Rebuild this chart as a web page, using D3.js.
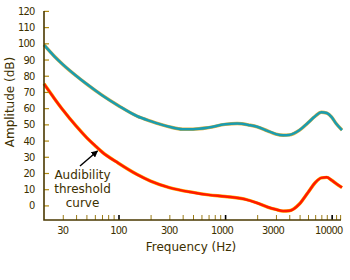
<!DOCTYPE html>
<html>
<head>
<meta charset="utf-8">
<script src="https://cdnjs.cloudflare.com/ajax/libs/d3/7.8.5/d3.min.js"></script>
<style>
body { margin: 0; background: #fff; }
svg { display: block; }
</style>
</head>
<body>
<div id="chart"></div>
<script>
// values: frequency (Hz) and amplitude (dB)
const painFreq = [20, 25, 30, 40, 50, 70, 100, 150, 200, 300, 400, 500, 700, 1000, 1300, 1700, 2000, 2500, 3000, 3500, 4000, 5000, 6000, 7000, 8000, 9000, 10000, 11000, 12500];
const painDb   = [99, 92, 87, 80, 75, 68, 61.5, 55, 52, 48.5, 47, 47, 48, 50, 50.5, 49.5, 48.5, 46, 44, 43.3, 43.5, 46.5, 51, 55, 57.5, 57, 54.5, 50.5, 46.5];

const hearFreq = [20, 25, 30, 40, 50, 60, 70, 100, 150, 200, 300, 500, 700, 1000, 1500, 2000, 2500, 3000, 3500, 4000, 5000, 6000, 7000, 8000, 9000, 10000, 11000, 12500];
const hearDb   = [75, 66, 59, 49, 42, 37, 33, 26, 19, 15, 11, 8, 6.5, 5.5, 4, 1.5, -1, -2.5, -3.5, -3.3, 1, 8, 14, 17, 17.3, 15.5, 13.5, 11];

const yTicks = [0, 10, 20, 30, 40, 50, 60, 70, 80, 90, 100, 110, 120];
const xLabels = [30, 100, 300, 1000, 3000, 10000];
const xMinor = [30, 40, 50, 60, 70, 80, 90, 100, 200, 300, 400, 500, 600, 700, 800, 900,
                1000, 2000, 3000, 4000, 5000, 6000, 7000, 8000, 9000, 10000, 11000, 12000];

const width = 350, height = 280;
const plotLeft = 44, plotRight = 342, plotTop = 10.9, plotBottom = 220;
const textCol = '#3d3000';

const svg = d3.select('#chart')
                .append('svg')
                .attr('width', width)
                .attr('height', height);

let scaleX = d3.scaleLog().domain([20, 12500]).range([plotLeft, plotRight]);
let scaleY = d3.scaleLinear().domain([-9, 120]).range([plotBottom, plotTop]);

// curves first so the axes sit on top
let line = d3.line()
                .x(d => scaleX(d[0]))
                .y(d => scaleY(d[1]))
                .curve(d3.curveMonotoneX);

function drawCurve(freq, db, edge, core) {
    let pts = freq.map((f, i) => [f, db[i]]);
    svg.append('path')
        .attr('d', line(pts))
        .style('fill', 'none')
        .style('stroke', edge)
        .style('stroke-width', 3.4);
    svg.append('path')
        .attr('d', line(pts))
        .style('fill', 'none')
        .style('stroke', core)
        .style('stroke-width', 2.5);
}

drawCurve(painFreq, painDb, '#dcb040', '#1a9cb0');
drawCurve(hearFreq, hearDb, '#ffb000', '#ff1a00');

// y axis
let yAxis = d3.axisRight(scaleY)
                .tickValues(yTicks)
                .tickSize(5)
                .tickFormat('');

let yAxisGroup = svg.append('g')
                .attr('transform', 'translate(' + plotLeft + ',0)')
                .call(yAxis);
yAxisGroup.select('.domain').remove();
yAxisGroup.selectAll('line').style('stroke', '#b08a10').style('stroke-width', 1.2);

svg.selectAll('.ylab')
    .data(yTicks)
    .enter()
    .append('text')
    .attr('class', 'ylab')
    .attr('x', 34.5)
    .attr('y', d => scaleY(d) + 4)
    .style('text-anchor', 'end')
    .style('font-family', '"DejaVu Sans Condensed", "DejaVu Sans", sans-serif')
    .style('font-size', '11px')
    .style('letter-spacing', '-0.8px')
    .style('fill', textCol)
    .text(d => d);

// x axis
let xAxis = d3.axisTop(scaleX)
                .tickValues(xMinor)
                .tickSize(5)
                .tickFormat('');

let xAxisGroup = svg.append('g')
                .attr('transform', 'translate(0,' + plotBottom + ')')
                .call(xAxis);
xAxisGroup.select('.domain').remove();
xAxisGroup.selectAll('.tick line')
    .style('stroke', d => (d === 100 || d === 1000 || d === 10000) ? '#000' : '#9a7a14')
    .style('stroke-width', d => (d === 100 || d === 1000 || d === 10000) ? 1.6 : 1);

svg.selectAll('.xlab')
    .data(xLabels)
    .enter()
    .append('text')
    .attr('class', 'xlab')
    .attr('x', d => scaleX(d) - (d >= 1000 ? 3 : 0))
    .attr('y', 233.5)
    .style('text-anchor', 'middle')
    .style('font-family', '"DejaVu Sans Condensed", "DejaVu Sans", sans-serif')
    .style('font-size', '11px')
    .style('letter-spacing', '-0.8px')
    .style('fill', textCol)
    .text(d => d);

// axis lines
svg.append('path')
    .attr('d', 'M' + plotLeft + ',' + plotTop + 'V' + plotBottom + 'H' + (plotRight - 1))
    .style('fill', 'none')
    .style('stroke', '#4a3800')
    .style('stroke-width', 1.6);

// axis titles
svg.append('text')
    .attr('x', 191)
    .attr('y', 251)
    .style('text-anchor', 'middle')
    .style('font-family', '"DejaVu Sans", sans-serif')
    .style('font-size', '12px')
    .style('fill', textCol)
    .text('Frequency (Hz)');

svg.append('text')
    .attr('transform', 'translate(14,102) rotate(-90)')
    .style('text-anchor', 'middle')
    .style('font-family', '"DejaVu Sans", sans-serif')
    .style('font-size', '12px')
    .style('fill', textCol)
    .text('Amplitude (dB)');

// annotation
let note = ['Audibility', 'threshold', 'curve'];
svg.selectAll('.note')
    .data(note)
    .enter()
    .append('text')
    .attr('class', 'note')
    .attr('x', 82.5)
    .attr('y', (d, i) => 179 + i * 14)
    .style('text-anchor', 'middle')
    .style('font-family', '"DejaVu Sans", sans-serif')
    .style('font-size', '12px')
    .style('fill', textCol)
    .text(d => d);

svg.append('defs')
    .append('marker')
    .attr('id', 'head')
    .attr('viewBox', '0 0 10 10')
    .attr('refX', 9)
    .attr('refY', 5)
    .attr('markerWidth', 4.5)
    .attr('markerHeight', 4.5)
    .attr('orient', 'auto')
    .append('path')
    .attr('d', 'M0,0L10,5L0,10z')
    .style('fill', '#000');

svg.append('line')
    .attr('x1', 80)
    .attr('y1', 166)
    .attr('x2', 97.5)
    .attr('y2', 151)
    .style('stroke', '#000')
    .style('stroke-width', 1.5)
    .attr('marker-end', 'url(#head)');
</script>
</body>
</html>
